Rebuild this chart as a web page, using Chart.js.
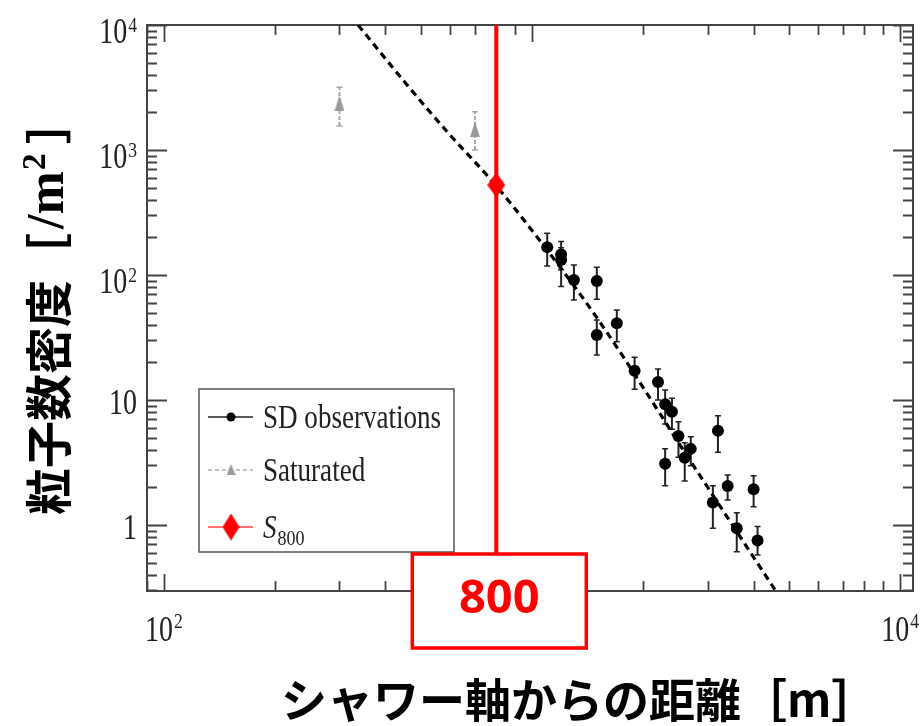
<!DOCTYPE html>
<html>
<head>
<meta charset="utf-8">
<script src="https://cdn.jsdelivr.net/npm/chart.js@4.4.0/dist/chart.umd.min.js"></script>
<style>
html, body { margin: 0; padding: 0; background: #fff; }
#wrap { width: 923px; height: 726px; }
</style>
</head>
<body>
<div id="wrap"><canvas id="grafico" width="923" height="726"></canvas></div>
<script>
// SD observations: distance from shower axis [m], density [/m2], error bar low / high
var sd_dist    = [1100, 1200, 1200, 1300, 1500, 1500, 1700, 1900, 2200, 2300, 2400, 2500, 2300, 2600, 2700, 3200, 3100, 3400, 4000, 3600, 4100];
var sd_density = [167, 146, 132, 91, 89.5, 33.1, 41.1, 17.1, 13.9, 9.24, 8.06, 5.15, 3.08, 3.45, 4.06, 5.68, 1.51, 2.05, 1.93, 0.94, 0.75];
var sd_err_lo  = [118, 110, 81, 63, 64, 22.9, 29.2, 12.2, 10, 6.43, 5.83, 3.48, 2.06, 2.25, 2.98, 3.82, 0.94, 1.58, 1.40, 0.61, 0.575];
var sd_err_hi  = [216, 185, 165, 120, 115, 43.7, 52.5, 22, 17.7, 12, 10.3, 6.7, 4.06, 4.55, 5.08, 7.48, 2.06, 2.51, 2.47, 1.25, 0.97];

// saturated detectors
var sat_dist    = [300, 700];
var sat_density = [2360, 1465];
var sat_err_lo  = [1556, 1000];
var sat_err_hi  = [3175, 2025];

// S800
var s800_dist = 800;
var s800_val = 525;
var s800_label = "800";

// fitted lateral distribution
var fit_dist    = [337, 458, 599, 783, 988, 1502, 2738, 4574];
var fit_density = [10000, 3311, 1318, 555, 238, 45.3, 3.02, 0.302];

// axis ticks
var y_tick_vals = [1, 10, 100, 1000, 10000];
var y_tick_base = ["1", "10", "10", "10", "10"];
var y_tick_exp  = ["", "", "2", "3", "4"];
var x_tick_vals = [100, 10000];
var x_tick_base = ["10", "10"];
var x_tick_exp  = ["2", "4"];

var legend_labels = ["SD observations", "Saturated", "S"];
var x_title = "シャワー軸からの距離［m］";
var y_title_jp = "粒子数密度［";

var SERIF = '"Liberation Serif", "DejaVu Serif", serif';
var JP = '"Noto Sans CJK JP", "Noto Sans", sans-serif';
var SQUEEZE = 0.8;

function marcador(tipo, w, h, cor) {
    var c = document.createElement("canvas");
    c.width = w; c.height = h;
    var g = c.getContext("2d");
    g.fillStyle = cor;
    g.beginPath();
    if (tipo == "diamond") {
        g.moveTo(w / 2, 0); g.lineTo(w, h / 2); g.lineTo(w / 2, h); g.lineTo(0, h / 2);
    } else {
        g.moveTo(w / 2, 0); g.lineTo(w, h); g.lineTo(0, h);
    }
    g.closePath();
    g.fill();
    return c;
}
var diamante = marcador("diamond", 18, 25, "#ff0000");
var diamanteLeg = marcador("diamond", 17, 27, "#ff0000");
var triangulo = marcador("tri", 10, 16, "#9a9a9a");
var trianguloLeg = marcador("tri", 9, 11, "#9a9a9a");

function texto(ctx, t, x, y, font, align, sq) {
    sq = sq || SQUEEZE;
    ctx.save();
    ctx.font = font;
    var w = ctx.measureText(t).width * sq;
    var left = align == "right" ? x - w : (align == "center" ? x - w / 2 : x);
    ctx.translate(left, y);
    ctx.scale(sq, 1);
    ctx.textAlign = "left";
    ctx.textBaseline = "alphabetic";
    ctx.fillText(t, 0, 0);
    ctx.restore();
    return w;
}
function largura(ctx, t, font) {
    ctx.save(); ctx.font = font;
    var w = ctx.measureText(t).width * SQUEEZE;
    ctx.restore();
    return w;
}

var fBase = "35px " + SERIF;
var fExp = "22px " + SERIF;

var moldura = {
    id: "moldura",
    beforeDatasetsDraw: function(chart) {
        var ctx = chart.ctx, a = chart.chartArea, x = chart.scales.x, y = chart.scales.y;
        ctx.save();
        ctx.strokeStyle = "#444";
        ctx.lineWidth = 2;
        ctx.strokeRect(a.left, a.top, a.right - a.left, a.bottom - a.top);
        ctx.lineWidth = 1.8;
        ctx.beginPath();
        for (var d = -1; d <= 4; d++) {
            for (var k = 1; k <= 9; k++) {
                var v = k * Math.pow(10, d);
                if (v < y.min || v > y.max * 1.0001) continue;
                var py = Math.round(y.getPixelForValue(v)) + 0.5;
                var len = k == 1 ? 20 : 10;
                ctx.moveTo(a.left, py); ctx.lineTo(a.left + len, py);
                ctx.moveTo(a.right, py); ctx.lineTo(a.right - len, py);
            }
        }
        for (var d = 1; d <= 4; d++) {
            for (var k = 1; k <= 9; k++) {
                var v = k * Math.pow(10, d);
                if (v < x.min || v > x.max) continue;
                var px = Math.round(x.getPixelForValue(v)) + 0.5;
                var len = k == 1 ? 17 : 10;
                ctx.moveTo(px, a.bottom); ctx.lineTo(px, a.bottom - len);
                ctx.moveTo(px, a.top); ctx.lineTo(px, a.top + len);
            }
        }
        ctx.stroke();

        // tick labels
        ctx.fillStyle = "#222";
        for (var i = 0; i < y_tick_vals.length; i++) {
            var py = y.getPixelForValue(y_tick_vals[i]);
            if (y_tick_exp[i] == "") {
                texto(ctx, y_tick_base[i], 137, py + 14, fBase, "right");
            } else {
                var we = largura(ctx, y_tick_exp[i], fExp);
                texto(ctx, y_tick_exp[i], 137, py + 7, fExp, "right");
                texto(ctx, y_tick_base[i], 137 - we - 1, py + 18, fBase, "right");
            }
        }
        for (var i = 0; i < x_tick_vals.length; i++) {
            var px = x.getPixelForValue(x_tick_vals[i]);
            var wb = largura(ctx, x_tick_base[i], fBase);
            var we = largura(ctx, x_tick_exp[i], fExp);
            var left = px - (wb + we + 1) / 2;
            texto(ctx, x_tick_base[i], left, 641, fBase, "left");
            texto(ctx, x_tick_exp[i], left + wb + 1, 628, fExp, "left");
        }

        // error bars
        function barra(xs, lo, hi, cor, dash) {
            ctx.strokeStyle = cor;
            for (var i = 0; i < xs.length; i++) {
                var px = x.getPixelForValue(xs[i]);
                var p1 = y.getPixelForValue(lo[i]), p2 = y.getPixelForValue(hi[i]);
                ctx.lineWidth = 2;
                ctx.setLineDash(dash);
                ctx.beginPath(); ctx.moveTo(px, p1); ctx.lineTo(px, p2); ctx.stroke();
                ctx.setLineDash([]);
                ctx.lineWidth = 1.5;
                ctx.beginPath();
                ctx.moveTo(px - 3, p1); ctx.lineTo(px + 3, p1);
                ctx.moveTo(px - 3, p2); ctx.lineTo(px + 3, p2);
                ctx.stroke();
            }
        }
        barra(sd_dist, sd_err_lo, sd_err_hi, "#222", []);
        barra(sat_dist, sat_err_lo, sat_err_hi, "#a8a8a8", [4, 2]);
        ctx.restore();
    },
    afterDraw: function(chart) {
        var ctx = chart.ctx, x = chart.scales.x;
        ctx.save();

        // legend
        ctx.fillStyle = "#fff";
        ctx.fillRect(199, 389, 255, 163);
        ctx.strokeStyle = "#555";
        ctx.lineWidth = 1.5;
        ctx.strokeRect(199, 389, 255, 163);
        var ly = [417, 470, 527];
        ctx.lineWidth = 1.5;
        ctx.strokeStyle = "#222";
        ctx.beginPath(); ctx.moveTo(208, ly[0]); ctx.lineTo(253, ly[0]); ctx.stroke();
        ctx.fillStyle = "#000";
        ctx.beginPath(); ctx.arc(231, ly[0], 4.5, 0, Math.PI * 2); ctx.fill();
        ctx.strokeStyle = "#b0b0b0";
        ctx.setLineDash([4, 3]);
        ctx.beginPath(); ctx.moveTo(208, ly[1]); ctx.lineTo(253, ly[1]); ctx.stroke();
        ctx.setLineDash([]);
        ctx.drawImage(trianguloLeg, 231 - 4.5, ly[1] - 6);
        ctx.strokeStyle = "#ff4040";
        ctx.beginPath(); ctx.moveTo(208, ly[2]); ctx.lineTo(253, ly[2]); ctx.stroke();
        ctx.drawImage(diamanteLeg, 231 - 8.5, ly[2] - 13.5);
        ctx.fillStyle = "#222";
        texto(ctx, legend_labels[0], 263, ly[0] + 11, "33px " + SERIF, "left", 0.82);
        texto(ctx, legend_labels[1], 263, ly[1] + 11, "33px " + SERIF, "left", 0.82);
        var ws = texto(ctx, legend_labels[2], 263, ly[2] + 11, "italic 33px " + SERIF, "left", 0.82);
        texto(ctx, s800_label, 263 + ws + 1, ly[2] + 18, "22px " + SERIF, "left", 0.82);

        // 800 box
        var bx = x.getPixelForValue(s800_dist);
        ctx.fillStyle = "#fff";
        ctx.fillRect(bx - 84, 554, 174, 94);
        ctx.strokeStyle = "#ff0000";
        ctx.lineWidth = 3.5;
        ctx.strokeRect(bx - 84, 554, 174, 94);
        ctx.fillStyle = "#ff0000";
        ctx.font = "bold 47px " + '"Noto Sans", sans-serif';
        ctx.textAlign = "center";
        ctx.textBaseline = "middle";
        ctx.fillText(s800_label, bx + 3, 600);

        // axis titles
        ctx.fillStyle = "#000";
        ctx.font = "bold 46px " + JP;
        ctx.textAlign = "left";
        ctx.textBaseline = "middle";
        ctx.fillText(x_title, 281, 700);

        ctx.save();
        ctx.translate(48, 515);
        ctx.rotate(-Math.PI / 2);
        ctx.textAlign = "left";
        ctx.textBaseline = "middle";
        ctx.font = "bold 47px " + JP;
        var w1 = ctx.measureText(y_title_jp).width;
        ctx.fillText(y_title_jp, 0, 0);
        ctx.font = "bold 52px " + SERIF;
        var w2 = ctx.measureText("/m").width;
        ctx.fillText("/m", w1 + 4, 2);
        ctx.font = "bold 34px " + SERIF;
        var w3 = ctx.measureText("2").width;
        ctx.fillText("2", w1 + 4 + w2 + 1, -12);
        ctx.font = "bold 47px " + JP;
        ctx.fillText("］", w1 + 4 + w2 + w3 + 10, 0);
        ctx.restore();

        ctx.restore();
    }
};

var pts = function(xs, ys) { return xs.map(function(v, i) { return {x: v, y: ys[i]}; }); };

var ctx = document.getElementById("grafico");
var ChartGraph = new Chart(ctx, {
    type: "line",
    data: {
        datasets: [
            {
                label: "S800",
                data: [{x: s800_dist, y: s800_val}],
                showLine: false,
                pointStyle: diamante,
                order: 0
            },
            {
                label: "S800 line",
                data: [{x: s800_dist, y: 10000}, {x: s800_dist, y: 0.3}],
                borderColor: "#ff0000",
                borderWidth: 4,
                pointRadius: 0,
                order: 1
            },
            {
                label: "SD observations",
                data: pts(sd_dist, sd_density),
                showLine: false,
                pointRadius: 6,
                pointBackgroundColor: "#000",
                pointBorderWidth: 0,
                order: 2
            },
            {
                label: "fit",
                data: pts(fit_dist, fit_density),
                borderColor: "#000",
                borderWidth: 3.2,
                borderDash: [7, 5],
                pointRadius: 0,
                cubicInterpolationMode: "monotone",
                order: 3
            },
            {
                label: "Saturated",
                data: pts(sat_dist, sat_density),
                showLine: false,
                pointStyle: triangulo,
                order: 4
            }
        ]
    },
    options: {
        responsive: false,
        animation: false,
        devicePixelRatio: 1,
        layout: { padding: { top: 25, right: 10, left: 0, bottom: 0 } },
        plugins: { legend: { display: false }, tooltip: { enabled: false } },
        scales: {
            x: {
                type: "logarithmic",
                min: 90,
                max: 10840,
                grid: { display: false },
                border: { display: false },
                ticks: { display: false },
                afterFit: function(s) { s.height = 135; }
            },
            y: {
                type: "logarithmic",
                min: 0.296,
                max: 10000,
                grid: { display: false },
                border: { display: false },
                ticks: { display: false },
                afterFit: function(s) { s.width = 147; }
            }
        }
    },
    plugins: [moldura]
});
</script>
</body>
</html>
